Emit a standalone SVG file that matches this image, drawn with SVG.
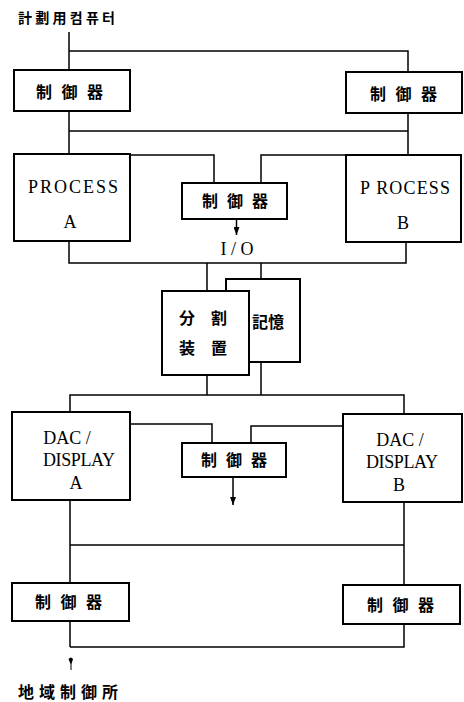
<svg xmlns="http://www.w3.org/2000/svg" width="464" height="702" viewBox="0 0 464 702">
<style>
.box{fill:#fff;stroke:#000;stroke-width:2}
.ln{fill:none;stroke:#000;stroke-width:1.5}
.cjk{font-family:"Noto Sans CJK JP","Noto Sans CJK KR",sans-serif;font-weight:bold;fill:#000}
.lat{font-family:"Liberation Serif","DejaVu Serif",serif;font-weight:normal;fill:#000;text-anchor:middle}
</style>
<defs>
<marker id="ah" markerWidth="8" markerHeight="6" refX="8" refY="3" orient="auto" markerUnits="userSpaceOnUse" viewBox="0 0 8 6">
<path d="M0,0 L8,3 L0,6 Z" fill="#000"/>
</marker>
</defs>
<rect width="464" height="702" fill="#fff"/>
<text class="cjk" x="18" y="23" font-size="14" textLength="97" lengthAdjust="spacing">計劃用컴퓨터</text>
<g id="connectors">
<path class="ln" d="M69,32 V154 M69,51 H408 V72 M69,111 V154 M69,131 H408 M408,113 V155"/>
<path class="ln" d="M130,155 H214 V183 M261,183 V155 H346"/>
<path class="ln" d="M236.5,219 V235" marker-end="url(#ah)"/>
<path class="ln" d="M69,241 V263 H406 V242 M207,263 V291 M261,263 V279"/>
<path class="ln" d="M207,375 V395 M261,362 V395 M70,412 V395 H404 V414"/>
<path class="ln" d="M130,424 H212 V443 M251,443 V426 H343"/>
<path class="ln" d="M233,477 V505" marker-end="url(#ah)"/>
<path class="ln" d="M70,500 V583 M70,545 H404 M404,502 V585 M404,624 V647 H70 M70,621 V647"/>
<path d="M68.5,659 Q71,656 73,659 L71.5,664 V670 H70.5 V664 Z" fill="#000"/>
</g>
<g id="ctrl-top-left">
<rect class="box" x="14" y="70" width="116" height="41"/>
<text class="cjk" x="36" y="98" font-size="16" textLength="67" lengthAdjust="spacing">制御器</text>
</g>
<g id="ctrl-top-right">
<rect class="box" x="346" y="72" width="116" height="41"/>
<text class="cjk" x="370" y="100" font-size="16" textLength="67" lengthAdjust="spacing">制御器</text>
</g>
<g id="process-a">
<rect class="box" x="14" y="154" width="116" height="87"/>
<text class="lat" x="73" y="193" font-size="18" textLength="90" lengthAdjust="spacing">PROCESS</text>
<text class="lat" x="70" y="228" font-size="18">A</text>
</g>
<g id="ctrl-mid-top">
<rect class="box" x="182" y="183" width="105" height="36"/>
<text class="cjk" x="202" y="207" font-size="16" textLength="66" lengthAdjust="spacing">制御器</text>
</g>
<g id="process-b">
<rect class="box" x="346" y="155" width="115" height="87"/>
<text class="lat" x="405" y="194" font-size="18" textLength="90" lengthAdjust="spacing">P ROCESS</text>
<text class="lat" x="403" y="229" font-size="18">B</text>
</g>
<text class="lat" x="237" y="255" font-size="18" xml:space="preserve">I / O</text>
<g id="memory">
<rect class="box" x="226" y="279" width="74" height="83"/>
<text class="cjk" x="252" y="328" font-size="16">記憶</text>
</g>
<g id="splitter">
<rect class="box" x="162" y="291" width="87" height="84"/>
<text class="cjk" x="179" y="324" font-size="16" textLength="48" lengthAdjust="spacing">分割</text>
<text class="cjk" x="179" y="354" font-size="16" textLength="48" lengthAdjust="spacing">装置</text>
</g>
<g id="dac-a">
<rect class="box" x="12" y="412" width="118" height="88"/>
<text class="lat" x="67" y="444" font-size="18">DAC /</text>
<text class="lat" x="79" y="466" font-size="18" textLength="72" lengthAdjust="spacing">DISPLAY</text>
<text class="lat" x="76" y="489" font-size="18">A</text>
</g>
<g id="ctrl-mid-bottom">
<rect class="box" x="182" y="443" width="104" height="34"/>
<text class="cjk" x="201" y="466" font-size="16" textLength="66" lengthAdjust="spacing">制御器</text>
</g>
<g id="dac-b">
<rect class="box" x="343" y="414" width="119" height="88"/>
<text class="lat" x="400" y="446" font-size="18">DAC /</text>
<text class="lat" x="402" y="468" font-size="18" textLength="72" lengthAdjust="spacing">DISPLAY</text>
<text class="lat" x="399" y="491" font-size="18">B</text>
</g>
<g id="ctrl-bottom-left">
<rect class="box" x="12" y="583" width="117" height="38"/>
<text class="cjk" x="35" y="608" font-size="16" textLength="67" lengthAdjust="spacing">制御器</text>
</g>
<g id="ctrl-bottom-right">
<rect class="box" x="343" y="585" width="117" height="39"/>
<text class="cjk" x="367" y="611" font-size="16" textLength="67" lengthAdjust="spacing">制御器</text>
</g>
<text class="cjk" x="18" y="698" font-size="16" textLength="100" lengthAdjust="spacing">地域制御所</text>
</svg>
